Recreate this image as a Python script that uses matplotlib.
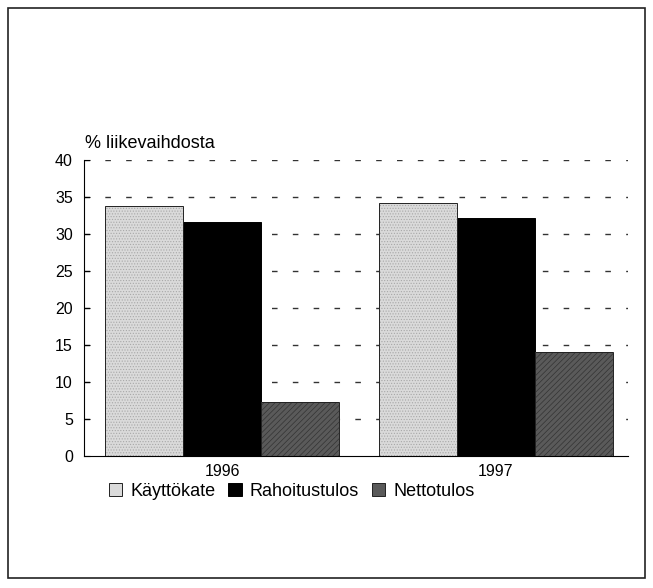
import matplotlib.pyplot as plt
import matplotlib.patches as mpatches
import numpy as np

plt.rcParams['font.family'] = ['Liberation Sans', 'DejaVu Sans']
plt.rcParams['hatch.linewidth'] = 0.5

years = ['1996', '1997']
series = ['Käyttökate', 'Rahoitustulos', 'Nettotulos']
kayttokate = [33.8, 34.2]
rahoitustulos = [31.6, 32.1]
nettotulos = [7.3, 14.0]

fig = plt.figure(figsize=(6.53, 5.88), dpi=100)
# outer frame like the scanned page
fig.patches.append(mpatches.Rectangle((8 / 653, 10 / 588), 637 / 653, 570 / 588,
                                      transform=fig.transFigure, fill=False,
                                      edgecolor='#222222', linewidth=1.2))

ax = fig.add_axes([84 / 653, 1 - 456 / 588, 544 / 653, 296 / 588])

x = np.arange(len(years))
w = 0.285
# fill with texture (hatch takes the edge colour), then a plain outline on top
ax.bar(x - w, kayttokate, w, color='#dadada', edgecolor='#a8a8a8', linewidth=0,
       hatch='......', zorder=3)
ax.bar(x - w, kayttokate, w, fill=False, edgecolor='#222222', linewidth=0.7, zorder=4)
ax.bar(x, rahoitustulos, w, color='black', edgecolor='black', linewidth=0.7, zorder=3)
ax.bar(x + w, nettotulos, w, color='#5a5a5a', edgecolor='#333333', linewidth=0,
       hatch='//////', zorder=3)
ax.bar(x + w, nettotulos, w, fill=False, edgecolor='#222222', linewidth=0.7, zorder=4)

ax.set_xlim(-0.504, 1.482)
ax.set_ylim(0, 40)
ax.set_yticks(range(0, 41, 5))
ax.set_xticks(x)
ax.set_xticklabels(years)
ax.tick_params(axis='y', direction='in', length=4, labelsize=11.5, pad=8)
ax.tick_params(axis='x', length=0, labelsize=11.5, pad=6)
ax.yaxis.grid(True, linestyle=(0, (4, 11)), color='#333333', linewidth=1.0, zorder=0)
ax.get_ygridlines()[0].set_visible(False)
ax.spines['top'].set_visible(False)
ax.spines['right'].set_visible(False)
ax.spines['left'].set_linewidth(0.8)
ax.spines['bottom'].set_linewidth(0.8)
ax.spines['bottom'].set_zorder(5)

fig.text(85 / 653, 1 - 143 / 588, '% liikevaihdosta', fontsize=13, va='center', ha='left')

handles = [
    mpatches.Patch(facecolor='#dadada', edgecolor='#222222', linewidth=0.7, label=series[0]),
    mpatches.Patch(facecolor='black', edgecolor='black', linewidth=0.7, label=series[1]),
    mpatches.Patch(facecolor='#5a5a5a', edgecolor='#222222', linewidth=0.7, label=series[2]),
]
ax.legend(handles=handles, loc='center left', bbox_to_anchor=(96 / 653, 1 - 491 / 588),
          bbox_transform=fig.transFigure, ncol=3, frameon=False, fontsize=13,
          handlelength=0.75, handleheight=0.75, handletextpad=0.45, columnspacing=0.7,
          borderpad=0.2)

fig.savefig('out.png', dpi=100)
